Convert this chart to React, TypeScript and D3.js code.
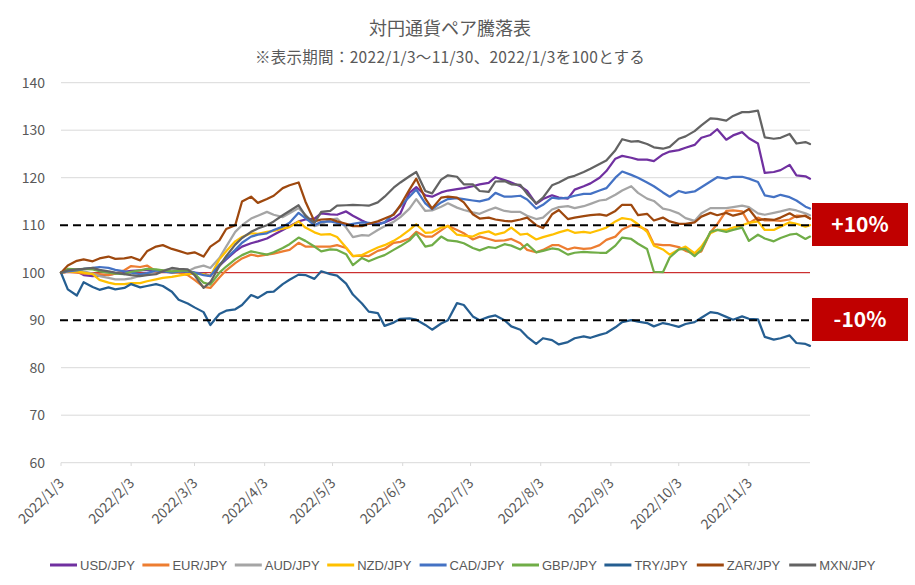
import React from 'react';
import * as d3 from 'd3';

const dates = [
  '2022-01-03','2022-01-06','2022-01-10','2022-01-13','2022-01-17','2022-01-20','2022-01-24','2022-01-27','2022-01-31',
  '2022-02-03','2022-02-07','2022-02-10','2022-02-14','2022-02-17','2022-02-21','2022-02-24','2022-02-28',
  '2022-03-03','2022-03-07','2022-03-10','2022-03-14','2022-03-17','2022-03-21','2022-03-24','2022-03-28','2022-03-31',
  '2022-04-04','2022-04-07','2022-04-11','2022-04-14','2022-04-18','2022-04-21','2022-04-25','2022-04-28',
  '2022-05-02','2022-05-05','2022-05-09','2022-05-12','2022-05-16','2022-05-19','2022-05-23','2022-05-26','2022-05-30',
  '2022-06-02','2022-06-06','2022-06-09','2022-06-13','2022-06-16','2022-06-20','2022-06-23','2022-06-27','2022-06-30',
  '2022-07-04','2022-07-07','2022-07-11','2022-07-14','2022-07-18','2022-07-21','2022-07-25','2022-07-28',
  '2022-08-01','2022-08-04','2022-08-08','2022-08-11','2022-08-15','2022-08-18','2022-08-22','2022-08-25','2022-08-29',
  '2022-09-01','2022-09-05','2022-09-08','2022-09-12','2022-09-15','2022-09-19','2022-09-22','2022-09-26','2022-09-29',
  '2022-10-03','2022-10-06','2022-10-10','2022-10-13','2022-10-17','2022-10-20','2022-10-24','2022-10-27','2022-10-31',
  '2022-11-03','2022-11-07','2022-11-10','2022-11-14','2022-11-17','2022-11-21','2022-11-24','2022-11-28','2022-11-30'
];

const USD = [
  100,100.2,100.3,99.5,99.3,99.4,99.6,99.8,100.2,100.4,
  100.5,100.6,100.5,100.3,100.2,100.5,100.4,100,99.8,99.3,
  101.5,102.8,104.5,105.5,106.2,106.6,107.2,108,109,109.8,
  110.8,111.2,111.4,112.5,112.3,112.2,112.9,112,111,110.3,
  110.3,110.6,111.4,112.5,116.8,118,116.3,116,116.9,117.3,
  117.6,117.8,118.2,118.6,118.9,120.1,119.5,119,118.2,117.2,
  114.5,115.5,116.3,115.8,115.6,117.5,118.2,118.8,120,121.4,
  124,124.6,124.2,123.8,123.8,123.5,124.9,125.5,125.8,126.3,
  126.9,128.4,129,130.2,128,128.9,129.6,128.3,127.2,121,
  121.2,121.6,122.7,120.5,120.3,119.8
];
const EUR = [
  100,100.2,100,99.8,99.8,99.7,99.5,99.8,100.5,101.4,
  101.2,101.5,100.3,100.5,100,100,99.5,98.5,97,96.8,
  99,100.5,102,103,103.8,103.5,103.8,104,104.5,104.8,
  106.3,105.5,105.5,105.5,105.5,105.8,105.2,103.5,103.6,103.5,
  104.6,105,106.3,106.5,107.2,108.6,107.6,107.6,108.9,109.9,
  109,108.3,107,107.6,107.1,106.7,106.8,107.1,106.2,104.8,
  104.3,104.8,105.8,105.8,104.9,105.3,105,105.1,105.8,106.9,
  107.6,109.1,110,109.8,109,106,105.8,105.8,105.4,104.6,
  104,104.5,108.5,110.2,113,113.1,112.9,110.4,111.6,111,
  111,110.9,111.2,112,111.9,111.4
];
const AUD = [
  100,100.3,100.5,100.3,99.8,99.3,98.9,98.6,98.6,98.8,
  99.3,99.8,100.3,100.5,100.8,100.6,100.3,101,101.5,101,
  103.1,105.5,108.6,110,111.4,112,112.8,112.2,111.7,112.5,
  113.6,112.2,109.8,110.2,111.2,111.4,109.5,107.5,107.9,107.8,
  109,109.8,110.7,111.7,113.5,115.5,113,113.1,113.9,114.6,
  113.7,113.2,112.7,112.4,113.2,113.7,113,112.8,112.8,112,
  111.3,111.6,113.3,113.8,114,113.6,114,114.5,115.2,115.4,
  116.4,117.3,118.2,116.8,115.6,115.1,113.5,113.2,112.5,111.5,
  110.9,112.5,113.6,113.6,113.6,113.8,114.1,113.8,112.5,112.2,
  112.6,112.9,113.4,113.1,112.5,112.1
];
const NZD = [
  100,100.2,100.3,100,99.7,98.5,97.9,97.6,97.6,97.8,
  97.8,98.2,98.6,98.9,99.1,99.4,99.7,99.8,99.7,99.3,
  102.8,104.5,106.6,107.5,108.3,108.2,108.6,108.8,109.3,109.6,
  110.8,109.5,108.5,108,108.1,107.5,105.3,103.5,103.7,104.4,
  105.3,105.8,106.7,107.6,109,110.2,108.4,108.5,109.5,109.8,
  108,107.8,107.6,108.3,108.7,108,108.5,109.5,108,108.2,
  107,107.5,108,108.5,109,108.4,108.6,108.4,109,109.5,
  110.8,111.5,111.2,110.2,108.6,105.7,104.9,103.8,104.9,105.5,
  104.1,105.5,108.3,109,109,109.5,110,110.5,110.8,109,
  109,109.7,110.6,110.3,109.7,110
];
const CAD = [
  100,100.3,100.5,100.8,101,101.2,101,100.6,100.3,100,
  99.7,99.9,100.5,100.3,100,100.2,100.3,100,99.5,99.3,
  101.7,103,104.8,106.3,107.6,108,108.3,109,109.7,110.5,
  112.6,111.5,110,110.7,110.8,110.5,110,110.3,110.6,110.5,
  110.1,110.6,112.4,114,116,117.5,114.6,113.4,114.8,115.5,
  115.7,115.5,115.2,115,115.5,116.8,116,116,116.2,115.4,
  113.5,114.3,115.8,115.6,115.8,116.2,116.6,116.6,117.3,117.8,
  120,121.3,120.6,120,119,118.2,116.9,116,117.2,116.8,
  117.1,118,119.2,120.1,119.8,120.2,120.2,119.8,119.1,116.3,
  115.9,116.4,115.9,115.2,113.9,113.5
];
const GBP = [
  100,100.8,100.7,100.8,100.7,100.3,100,99.8,99.7,100.2,
  100.5,100.8,100.7,100.5,100.3,100.4,100.5,99.8,97.9,97.5,
  100,101.3,102.8,103.7,104.5,104.2,103.8,104.3,105.2,106,
  107.4,106.7,105.5,104.5,104.9,104.8,103.9,101.6,103.1,102.4,
  103.2,103.7,104.8,105.6,106.8,108.3,105.5,105.8,107.6,106.8,
  106.6,106.2,105.2,104.7,105.4,105.2,106,105.7,104.9,106,
  104.3,104.6,105.1,104.9,103.8,104.2,104.4,104.3,104.2,104.2,
  105.7,107.4,107.1,106.1,105,100.2,100.1,103.2,104.9,105,
  103.5,104.8,108.6,109,108.6,109,109.5,106.7,108,107.2,
  106.6,107.3,108,108.2,107.1,107.6
];
const TRY = [
  100,96.5,95.2,98,97,96.4,96.9,96.5,96.8,97.6,
  96.9,97.2,97.6,97.2,96,94.3,93.5,92.7,91.7,89,
  91.3,92,92.3,93.2,95.3,94.7,95.9,96,97.6,98.5,
  99.6,99.5,98.7,100.3,99.7,99.4,97.7,95.4,93.5,91.8,
  91.5,88.8,89.5,90.3,90.4,90.1,89,88,89.3,90,
  93.6,93.2,90.8,90,90.7,91,90,88.7,88,86.5,
  85,86.2,85.8,84.9,85.4,86.2,86.6,86.3,86.9,87.3,
  88.5,89.6,90,89.7,89.4,88.7,89.4,89.1,88.6,89.2,
  89.6,90.5,91.7,91.5,90.7,90.1,90.8,90.3,90.2,86.5,
  85.9,86.2,86.8,85.2,85,84.6
];
const ZAR = [
  100,101.5,102.5,102.8,102.4,103,103.4,102.9,103,103.3,
  102.6,104.5,105.5,105.8,105,104.6,104,104.3,103.4,105.5,
  106.8,109.2,110,115,116,114.7,115.5,116.2,117.8,118.4,
  119,115,110.8,111.2,111.3,110.8,110.3,109.8,109.8,110.3,
  110.8,111.4,112.2,114.2,117.5,119.8,115.6,113.5,115.8,116,
  115.8,114.8,112.3,111.4,111.6,111.2,110.9,110.8,111.2,111.6,
  110,109.4,112.3,113.2,111.3,111.6,111.9,112.1,112.3,112,
  113,114.3,114.3,112.1,112.4,111,111.6,110.8,110.3,110.3,
  110.6,111.8,112.6,112.1,112.6,112,112.5,113.4,111,111.3,
  111.1,111.6,112.5,111.7,112,111.4
];
const MXN = [
  100,100.5,100.7,100.8,101,100.6,100.3,100,99.7,99.5,
  99.3,99.5,99.7,100.3,101,100.8,100.7,99.5,96.8,98,
  101.4,103.5,105.9,107.3,108.6,109.3,110,110.8,112.1,113,
  114.2,112,110.5,112.8,113,114.1,114.2,114.3,114.2,114.1,
  114.8,116,117.9,119,120.3,121.2,117.2,116.7,119.6,120.5,
  120.2,118.6,118.6,117.2,117,119.2,119.3,118.6,118.5,116.6,
  114.6,115.8,118.4,119,120,120.4,121.2,121.9,122.9,123.6,
  125.8,128.1,127.6,127.7,127.1,126.4,126.1,126.5,128.2,128.7,
  129.8,131,132.5,132.4,132,133,133.8,133.8,134.1,128.5,
  128.2,128.4,129.2,127.2,127.5,127.1
];

const seriesNames = ['USD/JPY','EUR/JPY','AUD/JPY','NZD/JPY','CAD/JPY','GBP/JPY','TRY/JPY','ZAR/JPY','MXN/JPY'];
const seriesValues = [USD, EUR, AUD, NZD, CAD, GBP, TRY, ZAR, MXN];
const seriesColors = ['#7030a0','#ed7d31','#a5a5a5','#ffc000','#4472c4','#70ad47','#255e91','#9e480e','#636363'];

const yTicks = [60,70,80,90,100,110,120,130,140];
const xTickDates = ['2022-01-03','2022-02-03','2022-03-03','2022-04-03','2022-05-03','2022-06-03','2022-07-03','2022-08-03','2022-09-03','2022-10-03','2022-11-03'];
const xTickLabels = ['2022/1/3','2022/2/3','2022/3/3','2022/4/3','2022/5/3','2022/6/3','2022/7/3','2022/8/3','2022/9/3','2022/10/3','2022/11/3'];

const TITLE = '対円通貨ペア騰落表';
const SUBTITLE = '※表示期間：2022/1/3〜11/30、2022/1/3を100とする';

const FONT = '"Noto Sans CJK JP", "Noto Sans", sans-serif';
const LFONT = '"Liberation Sans", Arial, sans-serif';

export default function App() {
  const W = 915, H = 585;
  const parse = d3.timeParse('%Y-%m-%d');
  const pd = dates.map(d => parse(d) as Date);
  const x = d3.scaleTime().domain([parse('2022-01-03') as Date, parse('2022-11-30') as Date]).range([61, 810]);
  const y = d3.scaleLinear().domain([60, 140]).range([462.7, 82.7]);
  const line = d3.line<number>().x((_, i) => x(pd[i])).y(d => y(d));

  const legendX0 = 50, legendStep = 92.4, legendY = 565;

  return (
    <svg width={W} height={H} style={{ position: 'absolute', left: 0, top: 0, display: 'block', background: '#fff' }}>
      <rect x={0} y={0} width={W} height={H} fill="#fff" />
      <text x={450} y={35} textAnchor="middle" fontFamily={FONT} fontSize={18} fill="#595959">{TITLE}</text>
      <text x={450} y={63} textAnchor="middle" fontFamily={FONT} fontSize={15.5} letterSpacing={0.3} fill="#595959">{SUBTITLE}</text>

      {yTicks.filter(t => t !== 90 && t !== 100 && t !== 110).map(t => (
        <line key={'g' + t} x1={61} x2={810} y1={y(t)} y2={y(t)} stroke="#d9d9d9" strokeWidth={1} />
      ))}
      {yTicks.map(t => (
        <text key={'yl' + t} x={45} y={y(t) + 5} textAnchor="end" fontFamily={FONT} fontSize={14} fill="#595959">{t}</text>
      ))}
      {xTickDates.map((d, i) => {
        const xx = x(parse(d) as Date);
        return (
          <g key={'xt' + i}>
            <line x1={xx} x2={xx} y1={462.7} y2={466} stroke="#d9d9d9" />
            <text transform={`translate(${xx + 4},${484}) rotate(-45)`} textAnchor="end" fontFamily={FONT} fontSize={14} fill="#595959">{xTickLabels[i]}</text>
          </g>
        );
      })}

      <line x1={61} x2={810} y1={y(100)} y2={y(100)} stroke="#c00000" strokeWidth={1} />

      {seriesValues.map((vals, i) => (
        <path key={'s' + i} d={line(vals) || ''} fill="none" stroke={seriesColors[i]} strokeWidth={2.25} strokeLinejoin="round" strokeLinecap="round" />
      ))}

      <line x1={60} x2={812} y1={y(110)} y2={y(110)} stroke="#000" strokeWidth={2} strokeDasharray="8,5" />
      <line x1={60} x2={812} y1={y(90)} y2={y(90)} stroke="#000" strokeWidth={2} strokeDasharray="8,5" />

      <rect x={812} y={203} width={96} height={43} fill="#c00000" />
      <text x={860} y={232} textAnchor="middle" fontFamily={FONT} fontWeight="bold" fontSize={21} fill="#fff">+10%</text>
      <rect x={812} y={298} width={96} height={43} fill="#c00000" />
      <text x={860} y={327} textAnchor="middle" fontFamily={FONT} fontWeight="bold" fontSize={21} fill="#fff">-10%</text>

      {seriesNames.map((n, i) => {
        const lx = legendX0 + i * legendStep;
        return (
          <g key={'lg' + i}>
            <line x1={lx} x2={lx + 27} y1={legendY} y2={legendY} stroke={seriesColors[i]} strokeWidth={3} />
            <text x={lx + 30} y={legendY + 5} fontFamily={LFONT} fontSize={13} fill="#595959">{n}</text>
          </g>
        );
      })}
    </svg>
  );
}
